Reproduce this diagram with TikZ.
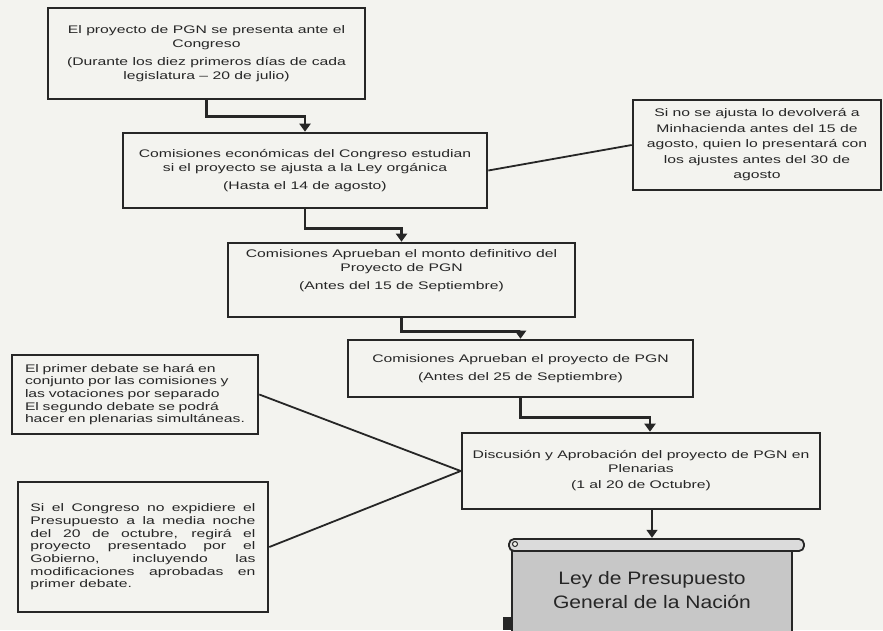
\documentclass[tikz,border=0pt]{standalone}
\usepackage{fontspec}
\setmainfont{Liberation Sans}[FakeStretch=1.43]
\newfontfamily\leyfont{Liberation Sans}[FakeStretch=1.17]
\usetikzlibrary{arrows.meta}
\definecolor{paper}{RGB}{243,243,239}
\definecolor{ink}{RGB}{38,38,38}

\begin{document}
\begin{tikzpicture}[x=1pt,y=-1pt,>={Triangle[width=11pt,length=8pt]},
box/.style={draw=ink, line width=2.6pt, fill=paper, align=center, inner sep=2pt,
  text=ink, font=\fontsize{11}{14}\selectfont},
note/.style={box, font=\fontsize{11}{12.7}\selectfont},
flow/.style={->, line width=2.6pt, draw=ink},
link/.style={line width=1.8pt, draw=ink}]
\useasboundingbox[fill=paper] (0,0) rectangle (883,630);

% main chain
\node[box, minimum width=317pt, minimum height=91pt] (b1) at (206.5,53.5)
  {El proyecto de PGN se presenta ante el\\Congreso\\[4pt]
   (Durante los diez primeros días de cada\\legislatura -- 20 de julio)};
\node[box, minimum width=364pt, minimum height=75pt] (b2) at (305,170.5)
  {Comisiones económicas del Congreso estudian\\si el proyecto se ajusta a la Ley orgánica\\[4pt]
   (Hasta el 14 de agosto)};
\node[box, minimum width=347pt, minimum height=74pt] (b3) at (401.5,280)
  {Comisiones Aprueban el monto definitivo del\\Proyecto de PGN\\[4pt]
   (Antes del 15 de Septiembre)\\[6pt]\mbox{}};
\node[box, minimum width=345pt, minimum height=57pt] (b4) at (520.5,368.5)
  {Comisiones Aprueban el proyecto de PGN\\[4pt](Antes del 25 de Septiembre)};
\node[box, minimum width=358pt, minimum height=76pt] (b5) at (641,471)
  {Discusión y Aprobación del proyecto de PGN en\\Plenarias\\[2pt](1 al 20 de Octubre)};

% side notes
\node[box, font=\fontsize{11}{15.5}\selectfont, minimum width=248pt, minimum height=90pt] (rb) at (757,145)
  {Si no se ajusta lo devolverá a\\Minhacienda antes del 15 de\\agosto, quien lo presentará con\\los ajustes antes del 30 de\\agosto};
\node[note, text width=220pt, align=left, minimum width=246pt, minimum height=79pt] (lb1) at (135,394.5)
  {El primer debate se hará en\\conjunto por las comisiones y\\las votaciones por separado\\El segundo debate se podrá\\hacer en plenarias simultáneas.};
\node[note, text width=225pt, align=justify, minimum width=250pt, minimum height=130pt] (lb2) at (143,547)
  {Si el Congreso no expidiere el\linebreak Presupuesto a la media noche\linebreak
   del 20 de octubre, regirá el\linebreak proyecto presentado por el\linebreak
   Gobierno, incluyendo las\linebreak modificaciones aprobadas en\linebreak primer debate.};

% scroll
\filldraw[fill=black!22, draw=ink, line width=1.8pt] (512,548) rectangle (792,640);
\filldraw[fill=black!14, draw=ink, line width=1.8pt, rounded corners=5pt] (509,539) rectangle (804,551);
\filldraw[fill=paper, draw=ink, line width=1pt] (515,544) circle (2.5);
\fill[ink] (503,617) rectangle (512,630);
\node[font=\leyfont\fontsize{18}{24}\selectfont, text=ink, align=center, inner sep=0pt,
  minimum height=104pt] (ley) at (652,590) {Ley de Presupuesto\\General de la Nación};

\draw[flow] (b1.south) -- ++(0,16) -| (b2.north);
\draw[flow] (b2.south) -- ++(0,19) -| (b3.north);
\draw[flow] (b3.south) -- ++(0,13) -| (b4.north);
\draw[flow] (b4.south) -- ++(0,19) -| ([xshift=9pt]b5.north);
\draw[->, line width=1.3pt, draw=ink] (b5.south -| ley.north) -- (ley.north);
\draw[link] (b2.east) -- (rb.west);
\draw[link] (lb1.east) -- (b5.west);
\draw[link] (lb2.east) -- (b5.west);
\end{tikzpicture}
\end{document}
